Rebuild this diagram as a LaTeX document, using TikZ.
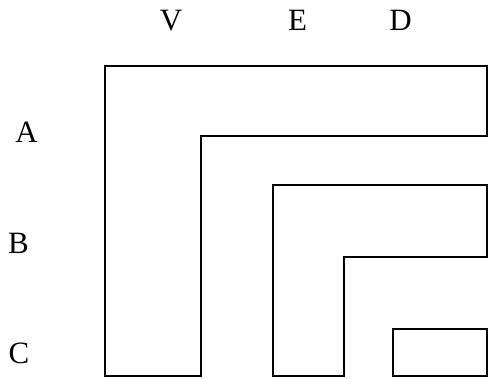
\documentclass[tikz,border=0pt]{standalone}
\usepackage{fontspec}
\setmainfont{Liberation Serif}
\begin{document}
\begin{tikzpicture}[x=1pt,y=-1pt,
  shape line/.style={draw=black,line width=2pt,line join=miter},
  lab/.style={inner sep=0pt,font=\fontsize{31}{36}\selectfont}]
\useasboundingbox (0,0) rectangle (488,379);
% labels
\node[lab] (V) at (171,20.5) {V};
\node[lab] (E) at (297.5,20.5) {E};
\node[lab] (D) at (400.5,20.5) {D};
\node[lab] (A) at (26.5,132.5) {A};
\node[lab] (B) at (18.5,243.5) {B};
\node[lab] (C) at (19,353) {C};
% outer L
\draw[shape line] (105,66) -- (486.5,66) -- (486.5,136.5) -- (201,136.5) -- (201,376.5) -- (105,376.5) -- cycle;
% second L
\draw[shape line] (272.5,185.5) -- (486.5,185.5) -- (486.5,257.5) -- (344,257.5) -- (344,376.5) -- (272.5,376.5) -- cycle;
% small rectangle
\draw[shape line] (392.5,329.5) rectangle (486.5,376.5);
\end{tikzpicture}
\end{document}
